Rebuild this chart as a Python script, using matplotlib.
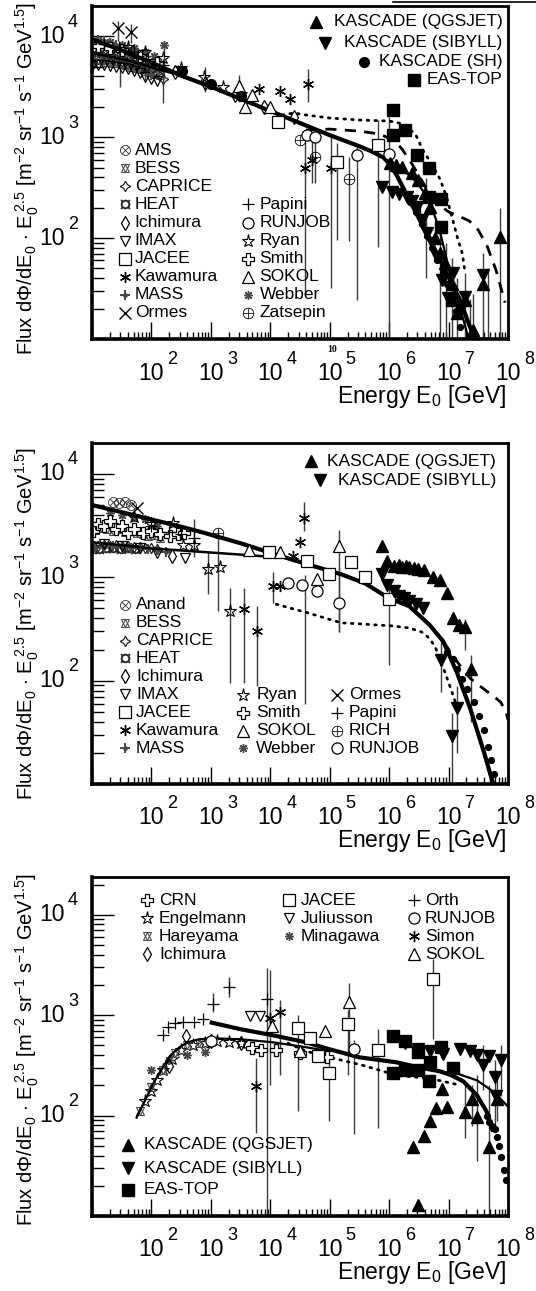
"""Cosmic-ray energy spectra of p, He and CNO: direct measurements vs. KASCADE / EAS-TOP."""

import numpy as np
import matplotlib
matplotlib.use("Agg")
import matplotlib.pyplot as plt
from matplotlib.lines import Line2D
from matplotlib.ticker import LogLocator, NullFormatter

plt.rcParams["font.family"] = ["Liberation Sans", "DejaVu Sans"]
plt.rcParams["mathtext.fontset"] = "custom"
plt.rcParams["mathtext.rm"] = "Liberation Sans"
plt.rcParams["mathtext.it"] = "Liberation Sans:italic"
plt.rcParams["mathtext.bf"] = "Liberation Sans:bold"

# all values are log10(E0 / GeV) and log10(flux * E0^2.5)

# ---------------- panel 1 : protons ----------------
P1_FIT_E = [1.0, 1.5, 2.0, 2.5, 3.0, 3.5, 4.0, 4.5, 5.0, 5.5, 5.7, 5.9, 6.0, 6.13, 6.4, 6.69, 6.97, 7.19, 7.36, 7.45]
P1_FIT_F = [3.97, 3.86, 3.74, 3.61, 3.50, 3.38, 3.26, 3.14, 3.02, 2.91, 2.86, 2.80, 2.74, 2.62, 2.31, 1.98, 1.65, 1.39, 1.12, 1.0]
P1_FIT2_E = [5.9, 6.05, 6.18, 6.32, 6.47, 6.6, 6.69, 6.78, 6.86, 6.94, 7.02, 7.1, 7.19, 7.31, 7.4]
P1_FIT2_F = [2.80, 2.76, 2.70, 2.63, 2.55, 2.44, 2.34, 2.20, 2.05, 1.86, 1.65, 1.48, 1.32, 1.06, 0.9]
P1_LOW_E = [1.0, 1.3, 1.6, 1.9, 2.2, 2.5]
P1_LOW_F = [3.83, 3.80, 3.76, 3.71, 3.66, 3.61]
P1_DOT_E = [4.2, 4.4, 4.6, 5.0, 5.5, 6.0, 6.25, 6.45, 6.57, 6.72, 6.86, 6.97, 7.07, 7.16, 7.23, 7.28]
P1_DOT_F = [3.22, 3.24, 3.22, 3.19, 3.17, 3.16, 3.13, 3.02, 2.87, 2.73, 2.58, 2.40, 2.18, 1.98, 1.85, 1.65]
P1_DASH_E = [4.6, 5.0, 5.5, 5.85, 6.1, 6.22, 6.4, 6.6, 6.8, 7.0, 7.2, 7.35, 7.5, 7.65, 7.8, 7.95]
P1_DASH_F = [3.07, 3.08, 3.06, 3.03, 2.96, 2.88, 2.72, 2.52, 2.35, 2.26, 2.21, 2.17, 2.08, 1.92, 1.68, 1.36]
P1_BIGDOT_E = [6.35, 6.45, 6.55, 6.64, 6.72, 6.81, 6.9, 6.98, 7.06, 7.13, 7.2]
P1_BIGDOT_F = [2.36, 2.26, 2.14, 2.02, 1.90, 1.78, 1.66, 1.55, 1.42, 1.28, 1.12]

P1_AMS_E = [1.0, 1.08, 1.16, 1.24, 1.32, 1.40, 1.48, 1.56, 1.64, 1.72, 1.80, 1.88, 1.96, 2.04]
P1_AMS_F = [3.80, 3.81, 3.79, 3.78, 3.78, 3.76, 3.76, 3.74, 3.73, 3.72, 3.70, 3.69, 3.68, 3.66]
P1_BESS_E = [1.02, 1.1, 1.18, 1.26, 1.34, 1.42, 1.5, 1.58, 1.66, 1.74, 1.82, 1.9, 1.98, 2.06, 2.14]
P1_BESS_F = [3.75, 3.76, 3.76, 3.75, 3.74, 3.74, 3.73, 3.72, 3.70, 3.69, 3.68, 3.66, 3.65, 3.63, 3.62]
P1_CAPRICE_E = [1.04, 1.12, 1.2, 1.28, 1.36, 1.44, 1.52, 1.6, 1.68, 1.76, 1.84, 1.92, 2.0, 2.1, 2.2]
P1_CAPRICE_F = [3.85, 3.84, 3.83, 3.82, 3.80, 3.79, 3.78, 3.76, 3.75, 3.73, 3.72, 3.70, 3.67, 3.64, 3.58]
P1_HEAT_E = [1.0, 1.1, 1.2, 1.3, 1.4, 1.5, 1.6, 1.7, 1.8]
P1_HEAT_F = [3.94, 3.93, 3.92, 3.90, 3.88, 3.87, 3.85, 3.83, 3.81]
P1_IMAX_E = [1.0, 1.1, 1.2, 1.3, 1.4, 1.5, 1.6, 1.7, 1.8, 1.9, 2.0, 2.1]
P1_IMAX_F = [3.71, 3.72, 3.72, 3.71, 3.70, 3.69, 3.68, 3.66, 3.64, 3.60, 3.58, 3.56]
P1_MASS_E = [1.0, 1.1, 1.2, 1.3, 1.4, 1.5, 1.6, 1.7, 1.85, 2.0]
P1_MASS_F = [3.97, 3.96, 3.95, 3.93, 3.91, 3.89, 3.87, 3.85, 3.80, 3.62]
P1_WEBBER_E = [1.1, 1.3, 1.5, 1.7, 1.9, 2.05, 2.21]
P1_WEBBER_F = [3.96, 3.94, 3.91, 3.88, 3.84, 3.80, 3.91]
P1_ORMES_E = [1.43, 1.66]
P1_ORMES_F = [4.08, 4.04]
P1_RYAN_E = [1.6, 1.9, 2.2, 2.5, 2.89, 3.2, 3.5]
P1_RYAN_F = [3.89, 3.84, 3.78, 3.69, 3.60, 3.50, 3.43]
P1_SMITH_E = [1.1, 1.3, 1.5, 1.8, 2.1]
P1_SMITH_F = [3.90, 3.88, 3.86, 3.80, 3.74]
P1_PAPINI_E = [1.2, 1.45, 1.7, 1.95, 2.2, 2.45]
P1_PAPINI_F = [3.92, 3.89, 3.84, 3.77, 3.72, 3.66]
P1_ICHIMURA_E = [2.4, 2.9, 3.4, 3.9, 4.4]
P1_ICHIMURA_F = [3.65, 3.54, 3.42, 3.30, 3.20]
P1_KAWAMURA_E = [3.81, 4.16, 4.33, 4.64, 4.59, 4.70, 5.02]
P1_KAWAMURA_F = [3.48, 3.46, 3.38, 3.53, 2.69, 2.77, 2.69]
P1_SOKOL_E = [3.47, 3.58, 3.70, 4.0]
P1_SOKOL_F = [3.51, 3.30, 3.42, 3.30]
P1_ZATSEPIN_E = [4.50, 4.76, 5.33]
P1_ZATSEPIN_F = [2.97, 2.80, 2.59]
P1_RUNJOB_E = [4.61, 4.75, 5.46, 6.0]
P1_RUNJOB_F = [3.02, 3.00, 2.82, 2.83]
P1_JACEE_E = [4.13, 5.12, 5.82, 6.62]
P1_JACEE_F = [3.15, 2.75, 2.92, 2.30]
P1_SH_E = [2.52, 3.01, 3.50]
P1_SH_F = [3.66, 3.53, 3.41]
P1_KQ_E = [6.01, 6.12, 6.22, 6.38, 6.49, 6.60, 6.69, 6.77, 6.86, 6.94, 7.05, 7.14, 7.28, 7.41, 7.58, 7.87]
P1_KQ_F = [2.74, 2.72, 2.70, 2.65, 2.58, 2.45, 2.31, 2.00, 1.85, 1.75, 1.55, 1.26, 1.39, 1.09, 1.55, 2.01]
P1_KS_E = [5.88, 6.05, 6.17, 6.30, 6.38, 6.47, 6.55, 6.64, 6.72, 6.81, 6.89, 6.99, 7.07, 7.19, 7.28, 7.58]
P1_KS_F = [2.51, 2.46, 2.44, 2.41, 2.37, 2.31, 2.18, 2.05, 1.95, 1.81, 1.58, 1.41, 1.65, 1.30, 1.42, 1.63]
P1_EAS_E = [6.07, 6.07, 6.27, 6.47, 6.67, 6.67, 6.87, 6.87, 7.06]
P1_EAS_F = [3.27, 3.02, 3.07, 2.82, 2.69, 2.41, 2.39, 2.11, 1.39]
P1_ERR_E = [1.43, 1.66, 4.64, 4.59, 4.70, 5.02, 5.33, 4.76, 5.12, 5.46, 5.82, 5.99, 6.62,
            7.41, 7.58, 7.87, 2.21, 3.47, 1.9, 2.9, 6.85, 6.95, 7.05, 7.14, 7.28, 7.36, 7.66,
            1.47, 2.19, 1.83]
P1_ERR_LO = [3.95, 3.93, 3.35, 1.44, 2.55, 1.51, 1.97, 2.55, 1.98, 1.39, 1.91, 1.02, 1.60,
             1.0, 1.0, 1.0, 3.60, 3.35, 3.55, 3.45, 1.0, 1.0, 1.0, 1.0, 1.0, 1.0, 1.0,
             3.50, 3.34, 3.62]
P1_ERR_HI = [4.15, 4.12, 3.68, 3.03, 2.95, 3.00, 2.80, 3.00, 2.94, 2.90, 3.17, 3.20, 2.60,
             1.45, 1.85, 2.30, 3.95, 3.62, 3.90, 3.70, 2.10, 1.95, 1.80, 1.60, 1.65, 1.40, 1.70,
             3.83, 3.67, 3.73]

# ---------------- panel 2 : helium ----------------
P2_FIT_E = [1.0, 1.5, 2.0, 2.5, 2.89, 3.5, 4.04, 4.6, 5.19, 5.6, 5.99, 6.34, 6.68, 6.91, 7.14, 7.37, 7.60, 7.75]
P2_FIT_F = [3.70, 3.63, 3.56, 3.49, 3.43, 3.33, 3.23, 3.13, 3.03, 2.94, 2.80, 2.72, 2.54, 2.38, 2.08, 1.72, 1.30, 1.00]
P2_LOW_E = [1.0, 1.5, 2.0, 2.5, 3.0, 3.5, 3.96]
P2_LOW_F = [3.34, 3.31, 3.28, 3.26, 3.24, 3.22, 3.20]
P2_DOT_E = [4.10, 4.35, 4.61, 4.9, 5.19, 5.5, 5.76, 6.05, 6.34, 6.55, 6.68, 6.78, 6.85, 6.94, 7.02, 7.14]
P2_DOT_F = [2.74, 2.70, 2.66, 2.61, 2.56, 2.55, 2.54, 2.53, 2.51, 2.47, 2.41, 2.32, 2.21, 2.08, 1.95, 1.75]
P2_DASH_E = [6.91, 7.1, 7.25, 7.37, 7.5, 7.66, 7.8, 7.88, 7.97, 8.0]
P2_DASH_F = [2.38, 2.22, 2.10, 2.02, 1.96, 1.89, 1.83, 1.79, 1.69, 1.62]
P2_BIGDOT_E = [6.97, 7.08, 7.14, 7.22, 7.31, 7.43, 7.51, 7.60, 7.66, 7.71, 7.77]
P2_BIGDOT_F = [2.28, 2.21, 2.11, 2.02, 1.92, 1.79, 1.66, 1.52, 1.36, 1.23, 1.10]

P2_ANAND_E = [1.35, 1.45, 1.55, 1.65]
P2_ANAND_F = [3.73, 3.72, 3.73, 3.70]
P2_BESS_E = [1.05, 1.15, 1.25, 1.35, 1.45, 1.55, 1.65, 1.75, 1.85, 1.95, 2.05, 2.15]
P2_BESS_F = [3.46, 3.48, 3.47, 3.45, 3.47, 3.44, 3.45, 3.43, 3.42, 3.40, 3.41, 3.38]
P2_CAPRICE_E = [1.0, 1.1, 1.2, 1.3, 1.4, 1.5, 1.6, 1.7, 1.8, 1.9, 2.0, 2.1]
P2_CAPRICE_F = [3.30, 3.30, 3.31, 3.30, 3.31, 3.30, 3.30, 3.29, 3.29, 3.28, 3.28, 3.27]
P2_HEAT_E = [1.0, 1.12, 1.24, 1.36, 1.48, 1.6, 1.72]
P2_HEAT_F = [3.27, 3.27, 3.28, 3.28, 3.27, 3.28, 3.27]
P2_MASS_E = [1.05, 1.2, 1.35, 1.5, 1.65, 1.8, 1.95, 2.1, 2.25]
P2_MASS_F = [3.28, 3.29, 3.30, 3.29, 3.28, 3.27, 3.27, 3.26, 3.25]
P2_WEBBER_E = [1.3, 1.5, 1.7, 1.9, 2.1]
P2_WEBBER_F = [3.62, 3.60, 3.58, 3.56, 3.50]
P2_ICHIMURA_E = [2.35]
P2_ICHIMURA_F = [3.21]
P2_IMAX_E = [1.2, 1.5, 1.8, 2.1, 2.56]
P2_IMAX_F = [3.32, 3.30, 3.28, 3.24, 3.19]
P2_ORMES_E = [1.75]
P2_ORMES_F = [3.67]
P2_SMITH_E = [1.02, 1.1, 1.2, 1.3, 1.4, 1.5, 1.6, 1.7, 1.86, 2.0, 2.15, 2.32, 2.45, 2.55]
P2_SMITH_F = [3.45, 3.52, 3.50, 3.55, 3.47, 3.50, 3.43, 3.47, 3.43, 3.45, 3.42, 3.40, 3.42, 3.43]
P2_PAPINI_E = [2.0, 2.3, 2.5, 2.72]
P2_PAPINI_F = [3.50, 3.44, 3.42, 3.38]
P2_RYAN_E = [1.7, 2.0, 2.36, 2.53, 2.72, 2.95, 3.15, 3.32]
P2_RYAN_F = [3.58, 3.52, 3.53, 3.31, 3.31, 3.08, 3.10, 2.67]
P2_KAWAMURA_E = [3.55, 3.78, 4.04, 4.16, 4.39, 4.50, 4.56]
P2_KAWAMURA_F = [2.69, 2.48, 2.92, 2.92, 3.21, 3.34, 3.57]
P2_JACEE_E = [3.98, 4.61, 4.99, 5.36, 5.59, 5.99]
P2_JACEE_F = [3.25, 3.16, 3.03, 3.15, 3.00, 2.79]
P2_SOKOL_E = [3.64, 4.16, 4.79, 5.16]
P2_SOKOL_F = [3.26, 3.25, 2.98, 3.30]
P2_RICH_E = [3.12]
P2_RICH_F = [3.43]
P2_RUNJOB_E = [4.30, 4.53, 4.79, 5.16]
P2_RUNJOB_F = [2.95, 2.93, 2.87, 2.75]
P2_KQ_E = [5.88, 5.96, 6.08, 6.16, 6.22, 6.28, 6.34, 6.41, 6.48, 6.59, 6.74, 6.85, 6.97, 7.08, 7.17, 7.28, 7.37]
P2_KQ_F = [3.30, 3.16, 3.11, 3.12, 3.10, 3.11, 3.10, 3.09, 3.08, 3.07, 3.00, 2.97, 2.85, 2.61, 2.54, 2.52, 2.11]
P2_KS_E = [5.88, 5.96, 6.08, 6.17, 6.25, 6.34, 6.45, 6.57, 6.88, 7.05, 7.14]
P2_KS_F = [3.03, 2.93, 2.87, 2.82, 2.80, 2.77, 2.74, 2.70, 2.20, 1.46, 1.74]
P2_ERR_E = [4.56, 3.55, 3.78, 4.04, 2.95, 3.12, 3.32, 4.59, 5.16, 5.16, 2.72, 6.88, 7.05, 7.14, 7.37, 7.28, 5.99]
P2_ERR_LO = [3.45, 1.98, 1.95, 2.75, 2.84, 2.67, 1.98, 1.77, 2.47, 2.47, 3.20, 1.89, 1.02, 1.30, 1.60, 2.30, 2.15]
P2_ERR_HI = [3.73, 2.90, 2.72, 3.05, 3.25, 3.46, 2.90, 3.02, 3.10, 3.46, 3.56, 2.38, 1.69, 1.95, 2.25, 2.60, 2.97]

# ---------------- panel 3 : CNO ----------------
P3_FIT_E = [2.98, 3.5, 4.04, 4.6, 5.0, 5.5, 6.13, 6.5, 6.86, 7.05, 7.25, 7.48, 7.64, 7.75]
P3_FIT_F = [2.93, 2.86, 2.80, 2.73, 2.66, 2.58, 2.53, 2.48, 2.44, 2.40, 2.34, 2.20, 2.04, 1.84]
P3_FIT2_E = [6.86, 7.14, 7.48, 7.75, 8.0]
P3_FIT2_F = [2.44, 2.42, 2.35, 2.24, 2.09]
P3_LOW_E = [1.75, 1.9, 2.03, 2.2, 2.32, 2.47, 2.61, 2.8, 3.01, 3.5, 4.04, 4.61, 5.0]
P3_LOW_F = [1.98, 2.16, 2.32, 2.49, 2.60, 2.68, 2.73, 2.76, 2.77, 2.76, 2.73, 2.68, 2.64]
P3_DOT_E = [4.3, 4.61, 5.0, 5.56, 6.13, 6.69, 7.14]
P3_DOT_F = [2.72, 2.64, 2.58, 2.50, 2.40, 2.37, 2.31]
P3_BIGDOT_E = [7.64, 7.68, 7.73, 7.78, 7.81, 7.85, 7.88, 7.93, 7.97]
P3_BIGDOT_F = [2.00, 1.94, 1.90, 1.87, 1.79, 1.70, 1.59, 1.46, 1.36]

P3_CRN_E = [3.70, 3.84, 4.10, 4.50, 4.96]
P3_CRN_F = [2.67, 2.65, 2.65, 2.62, 2.58]
P3_ENGEL_E = [1.9, 2.0, 2.1, 2.2, 2.35, 2.5, 2.7, 2.9, 3.1, 3.3, 3.5]
P3_ENGEL_F = [2.15, 2.24, 2.35, 2.45, 2.56, 2.65, 2.70, 2.72, 2.74, 2.73, 2.72]
P3_HAREYAMA_E = [1.8, 2.0, 2.2, 2.4, 2.6, 2.8]
P3_HAREYAMA_F = [2.05, 2.28, 2.45, 2.62, 2.70, 2.72]
P3_ICHIMURA_E = [2.30, 2.59, 3.0, 3.5]
P3_ICHIMURA_F = [2.49, 2.79, 2.74, 2.72]
P3_JACEE_E = [4.46, 4.66, 4.80, 4.98, 5.31, 5.82, 6.74]
P3_JACEE_F = [2.87, 2.77, 2.59, 2.42, 2.91, 2.65, 3.36]
P3_JULIUSSON_E = [3.66, 3.83]
P3_JULIUSSON_F = [2.99, 2.99]
P3_MINAGAWA_E = [2.0, 2.3, 2.6, 2.9]
P3_MINAGAWA_F = [2.45, 2.55, 2.60, 2.63]
P3_ORTH_E = [2.19, 2.28, 2.40, 2.53, 2.71, 2.87, 3.04, 3.31, 3.94]
P3_ORTH_F = [2.80, 2.88, 2.92, 2.93, 2.93, 2.96, 3.11, 3.28, 3.16]
P3_RUNJOB_E = [3.01, 5.41]
P3_RUNJOB_F = [2.74, 2.66]
P3_SIMON_E = [3.76, 4.0, 4.16]
P3_SIMON_F = [2.29, 2.97, 3.03]
P3_SOKOL_E = [4.03, 4.50, 4.92, 5.33]
P3_SOKOL_F = [2.89, 2.64, 2.84, 3.13]
P3_EAS_E = [6.07, 6.27, 6.48, 6.69, 6.88, 7.08, 6.07, 6.27, 6.48, 6.67]
P3_EAS_F = [2.79, 2.74, 2.63, 2.53, 2.68, 2.47, 2.42, 2.45, 2.45, 2.34]
P3_KS_E = [6.27, 6.48, 6.69, 6.91, 7.19, 7.36, 7.47, 7.58, 7.68, 7.78, 7.80, 7.89]
P3_KS_F = [2.72, 2.66, 2.64, 2.61, 2.66, 2.64, 2.60, 2.50, 2.59, 2.38, 2.20, 2.55]
P3_KQ_E = [6.40, 6.59, 6.69, 6.79, 6.89, 6.97, 7.28, 7.39, 7.47, 7.68, 7.81, 6.49]
P3_KQ_F = [1.69, 1.80, 1.95, 2.08, 2.26, 2.09, 2.04, 2.17, 1.99, 1.69, 2.17, 1.11]
P3_ERR_E = [3.94, 3.31, 3.76, 4.0, 4.16, 4.46, 4.98, 5.31, 5.41, 5.33, 5.82, 6.74,
            7.28, 7.47, 7.68, 7.81, 7.58, 7.78, 7.89, 7.39, 3.04]
P3_ERR_LO = [1.0, 3.18, 1.83, 2.30, 2.40, 2.05, 1.95, 2.40, 1.82, 2.60, 1.88, 2.76,
             1.78, 1.55, 1.0, 1.95, 2.25, 1.85, 2.20, 1.90, 3.03]
P3_ERR_HI = [3.47, 3.38, 2.57, 3.45, 3.15, 3.00, 2.55, 3.05, 2.75, 3.32, 2.86, 3.56,
             2.30, 2.40, 2.30, 2.40, 2.70, 2.55, 2.70, 2.30, 3.22]

GRAY = "#4a4a4a"
DARK = "#222222"
ERRC = "#3c3c3c"

STYLE = {
    "AMS": [dict(marker=r"$\otimes$", ms=7.5, mfc=DARK, mec=DARK, mew=0.2)],
    "BESS": [dict(marker="^", ms=6, mfc="none", mec=GRAY, mew=0.8),
             dict(marker="v", ms=6, mfc="none", mec=GRAY, mew=0.8)],
    "CAPRICE": [dict(marker=(4, 1, 0), ms=7.5, mfc="none", mec=DARK, mew=0.9)],
    "HEAT": [dict(marker=r"$¤$", ms=7, mfc=DARK, mec=DARK, mew=0.2)],
    "Ichimura": [dict(marker="d", ms=7, mfc="none", mec="black", mew=0.9)],
    "IMAX": [dict(marker="v", ms=7, mfc="none", mec="black", mew=0.9)],
    "JACEE": [dict(marker="s", ms=8.5, mfc="white", mec="black", mew=0.9)],
    "Kawamura": [dict(marker=(6, 2, 0), ms=8, mec="black", mew=1.0)],
    "MASS": [dict(marker=(4, 2, 0), ms=7.5, mec=GRAY, mew=1.2),
             dict(marker="o", ms=2.5, mfc=GRAY, mec=GRAY)],
    "Ormes": [dict(marker="x", ms=8, mec="black", mew=1.0)],
    "Papini": [dict(marker="+", ms=9, mec="black", mew=0.9)],
    "RUNJOB": [dict(marker="o", ms=8, mfc="white", mec="black", mew=0.9)],
    "Ryan": [dict(marker="*", ms=9.5, mfc="none", mec="black", mew=0.8)],
    "Smith": [dict(marker="P", ms=8, mfc="white", mec="black", mew=0.9)],
    "SOKOL": [dict(marker="^", ms=8.5, mfc="white", mec="black", mew=0.9)],
    "Webber": [dict(marker=(8, 2, 0), ms=6.5, mec=GRAY, mew=1.0)],
    "Zatsepin": [dict(marker=r"$\oplus$", ms=8, mfc="black", mec="black", mew=0.2)],
    "KQ": [dict(marker="^", ms=8, mfc="black", mec="black")],
    "KS": [dict(marker="v", ms=8, mfc="black", mec="black")],
    "SH": [dict(marker="o", ms=7, mfc="black", mec="black")],
    "EAS": [dict(marker="s", ms=8, mfc="black", mec="black")],
}
# same symbols reused under other experiment names
STYLE["Anand"] = STYLE["AMS"]
STYLE["RICH"] = STYLE["Zatsepin"]
STYLE["CRN"] = STYLE["Smith"]
STYLE["Engelmann"] = STYLE["Ryan"]
STYLE["Hareyama"] = STYLE["BESS"]
STYLE["Juliusson"] = STYLE["IMAX"]
STYLE["Minagawa"] = STYLE["Webber"]
STYLE["Orth"] = STYLE["Papini"]
STYLE["Simon"] = STYLE["Kawamura"]


def pts(ax, e, f, key, z=4):
    x = 10 ** np.asarray(e, float)
    y = 10 ** np.asarray(f, float)
    for st in STYLE[key]:
        ax.plot(x, y, ls="none", zorder=z, **st)


def curve(ax, e, f, **kw):
    ax.plot(10 ** np.asarray(e, float), 10 ** np.asarray(f, float), **kw)


def errs(ax, e, lo, hi):
    ax.vlines(10 ** np.asarray(e, float), 10 ** np.asarray(lo, float),
              10 ** np.asarray(hi, float), color=ERRC, lw=1.0, zorder=2)


def leg(ax, xm, xt, y, key, label, ha="left"):
    for st in STYLE[key]:
        ax.plot([xm], [y], ls="none", transform=ax.transAxes, clip_on=False, zorder=6, **st)
    ax.text(xt, y, label, transform=ax.transAxes, fontsize=12.5, ha=ha, va="center", zorder=6)


def frame(ax, ytop):
    ax.set_xscale("log")
    ax.set_yscale("log")
    ax.set_xlim(10, 1e8)
    ax.set_ylim(10, 10 ** ytop)
    for loc in ["x", "y"]:
        axis = ax.xaxis if loc == "x" else ax.yaxis
        axis.set_major_locator(LogLocator(base=10, numticks=20))
        axis.set_minor_locator(LogLocator(base=10, subs=np.arange(2, 10), numticks=20))
        axis.set_minor_formatter(NullFormatter())
    ax.tick_params(which="both", direction="in", top=False, right=False,
                   labelbottom=False, labelleft=False, width=1.0)
    ax.tick_params(axis="x", which="major", length=12)
    ax.tick_params(axis="x", which="minor", length=5)
    ax.tick_params(axis="y", which="major", length=16)
    ax.tick_params(axis="y", which="minor", length=8.5)
    for s in ["left", "bottom"]:
        ax.spines[s].set_linewidth(2.6)
    for s in ["top", "right"]:
        ax.spines[s].set_linewidth(2.0)
    # ROOT-like tick labels: "10" with a detached exponent
    for d in range(2, 9):
        ax.annotate("10", xy=(10 ** d, 0), xycoords=("data", "axes fraction"),
                    xytext=(0, -34), textcoords="offset pixels",
                    ha="center", va="center", fontsize=16.5)
        ax.annotate(str(d), xy=(10 ** d, 0), xycoords=("data", "axes fraction"),
                    xytext=(16, -20), textcoords="offset pixels",
                    ha="left", va="center", fontsize=13)
    for d in range(2, 5):
        ax.annotate("10", xy=(0, 10 ** d), xycoords=("axes fraction", "data"),
                    xytext=(-27, 0), textcoords="offset pixels",
                    ha="right", va="center", fontsize=16.5)
        ax.annotate(str(d), xy=(0, 10 ** d), xycoords=("axes fraction", "data"),
                    xytext=(-24, 14), textcoords="offset pixels",
                    ha="left", va="center", fontsize=13)
    ax.annotate(r"Energy E$_0$ [GeV]", xy=(1, 0), xycoords="axes fraction",
                xytext=(-2, -57), textcoords="offset pixels",
                ha="right", va="center", fontsize=16.5)


def fits(ax, fe, ff, de, df, dot_e, dot_f):
    curve(ax, fe, ff, color="black", lw=3.0, zorder=3, solid_capstyle="butt")
    curve(ax, de, df, color="black", lw=2.0, ls=(0, (0.6, 2.2)), dash_capstyle="round", zorder=3)
    ax.plot(10 ** np.asarray(dot_e, float), 10 ** np.asarray(dot_f, float),
            ls="none", marker="o", ms=4.2, color="black", zorder=3)


YLAB = (r"Flux d$\Phi$/dE$_0$ $\cdot$ E$_0^{\ 2.5}$ [m$^{-2}$ sr$^{-1}$ s$^{-1}$ GeV$^{1.5}$]")

fig = plt.figure(figsize=(5.36, 12.91), dpi=100)
L, W = 92 / 536, 416 / 536
ax1 = fig.add_axes([L, 1 - 339 / 1291, W, 333 / 1291])
ax2 = fig.add_axes([L, 1 - 784 / 1291, W, 341 / 1291])
ax3 = fig.add_axes([L, 1 - 1216 / 1291, W, 339 / 1291])

# ---- panel 1 ----
ax = ax1
frame(ax, 4.30)
errs(ax, P1_ERR_E, P1_ERR_LO, P1_ERR_HI)
for e, f, k in [(P1_AMS_E, P1_AMS_F, "AMS"), (P1_BESS_E, P1_BESS_F, "BESS"),
                (P1_CAPRICE_E, P1_CAPRICE_F, "CAPRICE"), (P1_HEAT_E, P1_HEAT_F, "HEAT"),
                (P1_IMAX_E, P1_IMAX_F, "IMAX"), (P1_MASS_E, P1_MASS_F, "MASS"),
                (P1_WEBBER_E, P1_WEBBER_F, "Webber"), (P1_SMITH_E, P1_SMITH_F, "Smith"),
                (P1_PAPINI_E, P1_PAPINI_F, "Papini")]:
    pts(ax, e, f, k, z=2)
curve(ax, P1_LOW_E, P1_LOW_F, color="black", lw=1.8, zorder=3)
curve(ax, P1_FIT2_E, P1_FIT2_F, color="black", lw=1.6, zorder=3)
curve(ax, P1_DASH_E, P1_DASH_F, color="black", lw=2.0, ls=(0, (4, 3)), zorder=3)
fits(ax, P1_FIT_E, P1_FIT_F, P1_DOT_E, P1_DOT_F, P1_BIGDOT_E, P1_BIGDOT_F)
for e, f, k in [(P1_ORMES_E, P1_ORMES_F, "Ormes"), (P1_RYAN_E, P1_RYAN_F, "Ryan"),
                (P1_ICHIMURA_E, P1_ICHIMURA_F, "Ichimura"), (P1_KAWAMURA_E, P1_KAWAMURA_F, "Kawamura"),
                (P1_SOKOL_E, P1_SOKOL_F, "SOKOL"), (P1_ZATSEPIN_E, P1_ZATSEPIN_F, "Zatsepin"),
                (P1_RUNJOB_E, P1_RUNJOB_F, "RUNJOB"), (P1_JACEE_E, P1_JACEE_F, "JACEE"),
                (P1_SH_E, P1_SH_F, "SH"), (P1_KQ_E, P1_KQ_F, "KQ"), (P1_KS_E, P1_KS_F, "KS"),
                (P1_EAS_E, P1_EAS_F, "EAS")]:
    pts(ax, e, f, k)
for y, k, lab, xm in [(0.952, "KQ", "KASCADE (QGSJET)", 0.539), (0.889, "KS", "KASCADE (SIBYLL)", 0.560),
                      (0.833, "SH", "KASCADE (SH)", 0.654), (0.778, "EAS", "EAS-TOP", 0.773)]:
    leg(ax, xm, 0.987, y, k, lab, ha="right")
col1 = ["AMS", "BESS", "CAPRICE", "HEAT", "Ichimura", "IMAX", "JACEE", "Kawamura", "MASS", "Ormes"]
for i, k in enumerate(col1):
    leg(ax, 0.079, 0.103, 0.567 - i * 0.0543, k, k)
col2 = ["Papini", "RUNJOB", "Ryan", "Smith", "SOKOL", "Webber", "Zatsepin"]
for i, k in enumerate(col2):
    leg(ax, 0.375, 0.403, 0.404 - i * 0.0543, k, k)
ax.annotate("10", xy=(10 ** 5, 0), xycoords=("data", "axes fraction"), xytext=(2, -11),
            textcoords="offset pixels", ha="center", va="center", fontsize=7,
            fontweight="bold", family="Liberation Serif")
ax.text(-0.156, 0.483, YLAB, transform=ax.transAxes, rotation=90, ha="center", va="center", fontsize=14.5)

# ---- panel 2 ----
ax = ax2
frame(ax, 4.30)
errs(ax, P2_ERR_E, P2_ERR_LO, P2_ERR_HI)
for e, f, k in [(P2_ANAND_E, P2_ANAND_F, "Anand"), (P2_BESS_E, P2_BESS_F, "BESS"),
                (P2_CAPRICE_E, P2_CAPRICE_F, "CAPRICE"), (P2_HEAT_E, P2_HEAT_F, "HEAT"),
                (P2_MASS_E, P2_MASS_F, "MASS"), (P2_WEBBER_E, P2_WEBBER_F, "Webber"),
                (P2_IMAX_E, P2_IMAX_F, "IMAX"), (P2_SMITH_E, P2_SMITH_F, "Smith"),
                (P2_PAPINI_E, P2_PAPINI_F, "Papini")]:
    pts(ax, e, f, k, z=2)
curve(ax, P2_LOW_E, P2_LOW_F, color="black", lw=1.8, zorder=3)
curve(ax, P2_DASH_E, P2_DASH_F, color="black", lw=2.0, ls=(0, (4, 3)), zorder=3)
fits(ax, P2_FIT_E, P2_FIT_F, P2_DOT_E, P2_DOT_F, P2_BIGDOT_E, P2_BIGDOT_F)
for e, f, k in [(P2_ORMES_E, P2_ORMES_F, "Ormes"), (P2_ICHIMURA_E, P2_ICHIMURA_F, "Ichimura"),
                (P2_RYAN_E, P2_RYAN_F, "Ryan"), (P2_KAWAMURA_E, P2_KAWAMURA_F, "Kawamura"),
                (P2_JACEE_E, P2_JACEE_F, "JACEE"), (P2_SOKOL_E, P2_SOKOL_F, "SOKOL"),
                (P2_RICH_E, P2_RICH_F, "RICH"), (P2_RUNJOB_E, P2_RUNJOB_F, "RUNJOB"),
                (P2_KQ_E, P2_KQ_F, "KQ"), (P2_KS_E, P2_KS_F, "KS")]:
    pts(ax, e, f, k)
leg(ax, 0.527, 0.971, 0.947, "KQ", "KASCADE (QGSJET)", ha="right")
leg(ax, 0.547, 0.971, 0.891, "KS", "KASCADE (SIBYLL)", ha="right")
col1 = ["Anand", "BESS", "CAPRICE", "HEAT", "Ichimura", "IMAX", "JACEE", "Kawamura", "MASS"]
for i, k in enumerate(col1):
    leg(ax, 0.079, 0.106, 0.526 - i * 0.0526, k, k)
for i, k in enumerate(["Ryan", "Smith", "SOKOL", "Webber"]):
    leg(ax, 0.362, 0.395, 0.262 - i * 0.0526, k, k)
for i, k in enumerate(["Ormes", "Papini", "RICH", "RUNJOB"]):
    leg(ax, 0.588, 0.617, 0.262 - i * 0.0526, k, k)
ax.text(-0.156, 0.47, YLAB, transform=ax.transAxes, rotation=90, ha="center", va="center", fontsize=14.5)

# ---- panel 3 ----
ax = ax3
frame(ax, 4.376)
errs(ax, P3_ERR_E, P3_ERR_LO, P3_ERR_HI)
for e, f, k in [(P3_ENGEL_E, P3_ENGEL_F, "Engelmann"), (P3_HAREYAMA_E, P3_HAREYAMA_F, "Hareyama"),
                (P3_MINAGAWA_E, P3_MINAGAWA_F, "Minagawa")]:
    pts(ax, e, f, k, z=2)
curve(ax, P3_LOW_E, P3_LOW_F, color="black", lw=1.6, zorder=3)
curve(ax, P3_FIT2_E, P3_FIT2_F, color="black", lw=1.6, zorder=3)
fits(ax, P3_FIT_E, P3_FIT_F, P3_DOT_E, P3_DOT_F, P3_BIGDOT_E, P3_BIGDOT_F)
for e, f, k in [(P3_CRN_E, P3_CRN_F, "CRN"), (P3_ICHIMURA_E, P3_ICHIMURA_F, "Ichimura"),
                (P3_JACEE_E, P3_JACEE_F, "JACEE"), (P3_JULIUSSON_E, P3_JULIUSSON_F, "Juliusson"),
                (P3_ORTH_E, P3_ORTH_F, "Orth"), (P3_RUNJOB_E, P3_RUNJOB_F, "RUNJOB"),
                (P3_SIMON_E, P3_SIMON_F, "Simon"), (P3_SOKOL_E, P3_SOKOL_F, "SOKOL"),
                (P3_EAS_E, P3_EAS_F, "EAS"), (P3_KS_E, P3_KS_F, "KS"), (P3_KQ_E, P3_KQ_F, "KQ")]:
    pts(ax, e, f, k)
for i, k in enumerate(["CRN", "Engelmann", "Hareyama", "Ichimura"]):
    leg(ax, 0.132, 0.161, 0.931 - i * 0.053, k, k)
for i, k in enumerate(["JACEE", "Juliusson", "Minagawa"]):
    leg(ax, 0.473, 0.502, 0.931 - i * 0.053, k, k)
for i, k in enumerate(["Orth", "RUNJOB", "Simon", "SOKOL"]):
    leg(ax, 0.773, 0.800, 0.931 - i * 0.053, k, k)
for y, k, lab in [(0.210, "KQ", "KASCADE (QGSJET)"), (0.141, "KS", "KASCADE (SIBYLL)"),
                  (0.078, "EAS", "EAS-TOP")]:
    leg(ax, 0.087, 0.124, y, k, lab)
ax.text(-0.156, 0.49, YLAB, transform=ax.transAxes, rotation=90, ha="center", va="center", fontsize=14.5)

# stray rule at the top right edge of the original scan
fig.add_artist(Line2D([393 / 536, 1.0], [1 - 1.5 / 1291] * 2, color="black", lw=1.2,
                      transform=fig.transFigure))

fig.savefig("out.png", dpi=100)
